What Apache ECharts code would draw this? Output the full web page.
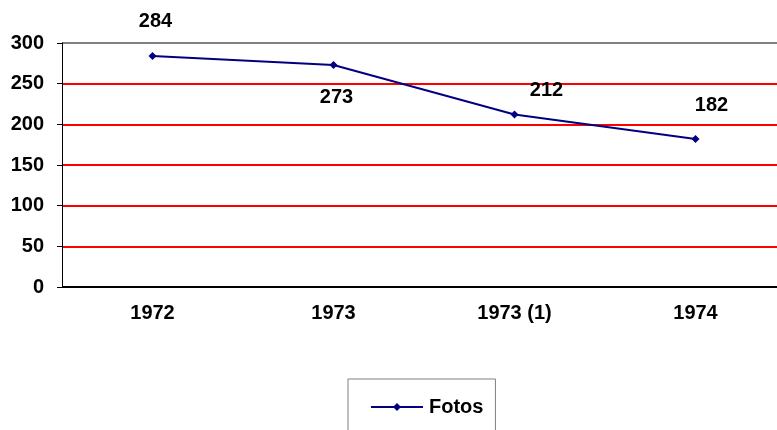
<!DOCTYPE html>
<html>
<head>
<meta charset="utf-8">
<script src="https://cdn.jsdelivr.net/npm/echarts@6/dist/echarts.min.js"></script>
<style>html,body{margin:0;padding:0;background:#fff}#c{width:777px;height:430px}</style>
</head>
<body>
<div id="c"></div>
<script>
var categories = ['1972', '1973', '1973 (1)', '1974'];
var fotos = [284, 273, 212, 182];
var yTicks = [0, 50, 100, 150, 200, 250, 300];
var labelOffsets = [[3, -35], [3, 33], [32, -24], [16, -33]];

var FONT = 'Arial, "Liberation Sans", sans-serif';
var FS = 20;
var chart = echarts.init(document.getElementById('c'), null, {renderer: 'canvas'});
chart.setOption({
  animation: false,
  backgroundColor: '#ffffff',
  grid: {left: 62, right: -9, top: 43, bottom: 143, containLabel: false, outerBoundsMode: 'none'},
  legend: {
    left: 348, top: 379,
    padding: [18, 12, 40, 22],
    borderColor: '#808080', borderWidth: 1,
    itemWidth: 52, itemHeight: 10, itemGap: 4,
    textStyle: {fontFamily: FONT, fontWeight: 'bold', fontSize: FS, color: '#000', padding: [0, 0, 0, 1]},
    data: ['Fotos']
  },
  xAxis: {
    type: 'category',
    data: categories,
    boundaryGap: true,
    axisLine: {lineStyle: {color: '#000', width: 1}},
    axisTick: {length: 5, lineStyle: {color: '#000'}},
    axisLabel: {fontFamily: FONT, fontWeight: 'bold', fontSize: FS, color: '#000', margin: 16}
  },
  yAxis: {
    type: 'value',
    min: yTicks[0], max: yTicks[yTicks.length - 1], interval: 50,
    axisLine: {show: true, lineStyle: {color: '#000', width: 1}},
    axisTick: {show: true, length: 5, lineStyle: {color: '#000'}},
    axisLabel: {fontFamily: FONT, fontWeight: 'bold', fontSize: FS, color: '#000', margin: 18},
    splitLine: {show: true, lineStyle: {color: ['#000000', '#ff0000', '#ff0000', '#ff0000', '#ff0000', '#ff0000', '#808080'], width: 2}}
  },
  series: [{
    name: 'Fotos',
    type: 'line',
    data: fotos.map(function (v, i) {
      return {value: v, label: {offset: labelOffsets[i]}};
    }),
    symbol: 'diamond',
    symbolSize: 8,
    lineStyle: {color: '#000080', width: 2},
    itemStyle: {color: '#000080'},
    label: {
      show: true, position: 'inside',
      fontFamily: FONT, fontWeight: 'bold', fontSize: FS, color: '#000'
    }
  }]
});
</script>
</body>
</html>
